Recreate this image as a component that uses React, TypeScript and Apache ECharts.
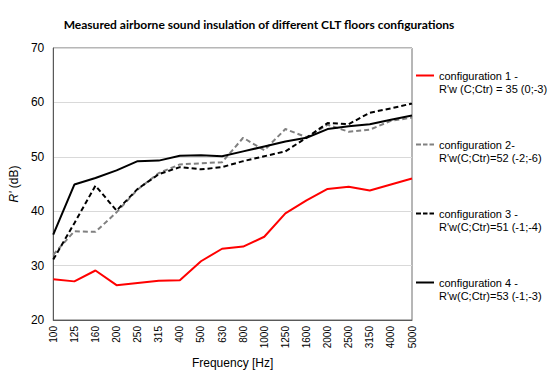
import React, { useEffect, useRef } from "react";
import * as echarts from "echarts";

const frequencies = ["100", "125", "160", "200", "250", "315", "400", "500", "630", "800", "1000", "1250", "1600", "2000", "2500", "3150", "4000", "5000"];
const config1 = [27.5, 27.1, 29.1, 26.4, 26.8, 27.2, 27.3, 30.8, 33.1, 33.5, 35.3, 39.6, 42.0, 44.1, 44.5, 43.8, 44.9, 46.0];
const config2 = [32.0, 36.3, 36.2, 39.8, 44.0, 47.0, 48.6, 48.8, 49.0, 53.5, 51.2, 55.1, 53.6, 55.9, 54.6, 55.0, 56.6, 57.2];
const config3 = [31.1, 37.8, 44.7, 40.1, 44.1, 46.8, 48.1, 47.7, 48.1, 49.2, 50.1, 51.0, 53.5, 56.2, 56.0, 58.1, 58.9, 59.8];
const config4 = [35.7, 44.9, 46.1, 47.5, 49.2, 49.3, 50.2, 50.3, 50.1, 51.0, 51.9, 52.8, 53.5, 55.1, 55.6, 56.0, 56.8, 57.6];
const seriesNames = [
  "configuration 1 -\nR'w (C;Ctr) = 35 (0;-3)",
  "configuration 2-\nR'w(C;Ctr)=52 (-2;-6)",
  "configuration 3 -\nR'w(C;Ctr)=51 (-1;-4)",
  "configuration 4 -\nR'w(C;Ctr)=53 (-1;-3)",
];
const yTicks = { min: 20, max: 70, interval: 10 };

const SOLID_ICON = "path://M0,0h18v2h-18z";
const DASH_ICON = "path://M0,0h5v2h-5z M7,0h4.5v2h-4.5z M13.5,0h4.5v2h-4.5z";

export default function App() {
  const ref = useRef<HTMLDivElement>(null);
  useEffect(() => {
    if (!ref.current) return;
    const chart = echarts.init(ref.current, null, { renderer: "svg" });
    const font = "'Liberation Sans', Arial, sans-serif";
    const mk = (name: string, data: number[], color: string, dashed: boolean) => ({
      name,
      type: "line",
      data,
      symbol: "none",
      showSymbol: false,
      lineStyle: { color, width: 2, type: dashed ? [5, 3] : "solid" },
      itemStyle: { color },
    });
    chart.setOption({
      animation: false,
      backgroundColor: "#ffffff",
      title: {
        text: "Measured airborne sound insulation of different CLT floors configurations",
        left: 259,
        top: 18,
        textAlign: "center",
        padding: 0,
        textStyle: { fontFamily: "Lato, sans-serif", fontWeight: "bold", fontSize: 12, color: "#000" },
      },
      grid: { left: 39, right: 138, top: 48, bottom: 51, show: true, borderColor: "#6f6f6f", borderWidth: 1, containLabel: false },
      legend: {
        orient: "vertical",
        left: 416,
        top: 56,
        padding: 0,
        itemGap: 30,
        itemWidth: 18,
        itemHeight: 2,
        formatter: (n: string) => "\n" + n,
        textStyle: { fontFamily: font, fontSize: 11, color: "#000", lineHeight: 13 },
        data: [
          { name: seriesNames[0], icon: SOLID_ICON },
          { name: seriesNames[1], icon: DASH_ICON },
          { name: seriesNames[2], icon: DASH_ICON },
          { name: seriesNames[3], icon: SOLID_ICON },
        ],
      },
      xAxis: {
        type: "category",
        data: frequencies,
        boundaryGap: false,
        name: "Frequency [Hz]",
        nameLocation: "middle",
        nameGap: 37,
        nameTextStyle: { fontFamily: font, fontSize: 12, color: "#000" },
        axisLine: { lineStyle: { color: "#595959" } },
        axisTick: { show: false },
        axisLabel: { rotate: 90, fontFamily: font, fontSize: 10, color: "#000", margin: 6, interval: 0 },
        splitLine: { show: false },
      },
      yAxis: {
        type: "value",
        min: yTicks.min,
        max: yTicks.max,
        interval: yTicks.interval,
        name: "{i|R'} (dB)",
        nameLocation: "middle",
        nameGap: 24,
        nameTextStyle: {
          fontFamily: font,
          fontSize: 12,
          color: "#000",
          rich: { i: { fontFamily: font, fontSize: 12, fontStyle: "italic", color: "#000" } },
        },
        axisLine: { show: true, lineStyle: { color: "#595959" } },
        axisTick: { show: false },
        axisLabel: { fontFamily: font, fontSize: 12, color: "#000", margin: 9 },
        splitLine: { lineStyle: { color: "#d9d9d9", width: 1 } },
      },
      series: [
        mk(seriesNames[0], config1, "#ff0000", false),
        mk(seriesNames[1], config2, "#808080", true),
        mk(seriesNames[2], config3, "#000000", true),
        mk(seriesNames[3], config4, "#000000", false),
      ],
    });
    return () => chart.dispose();
  }, []);
  return <div ref={ref} style={{ width: 550, height: 374, position: "absolute", left: 0, top: 0 }} />;
}
